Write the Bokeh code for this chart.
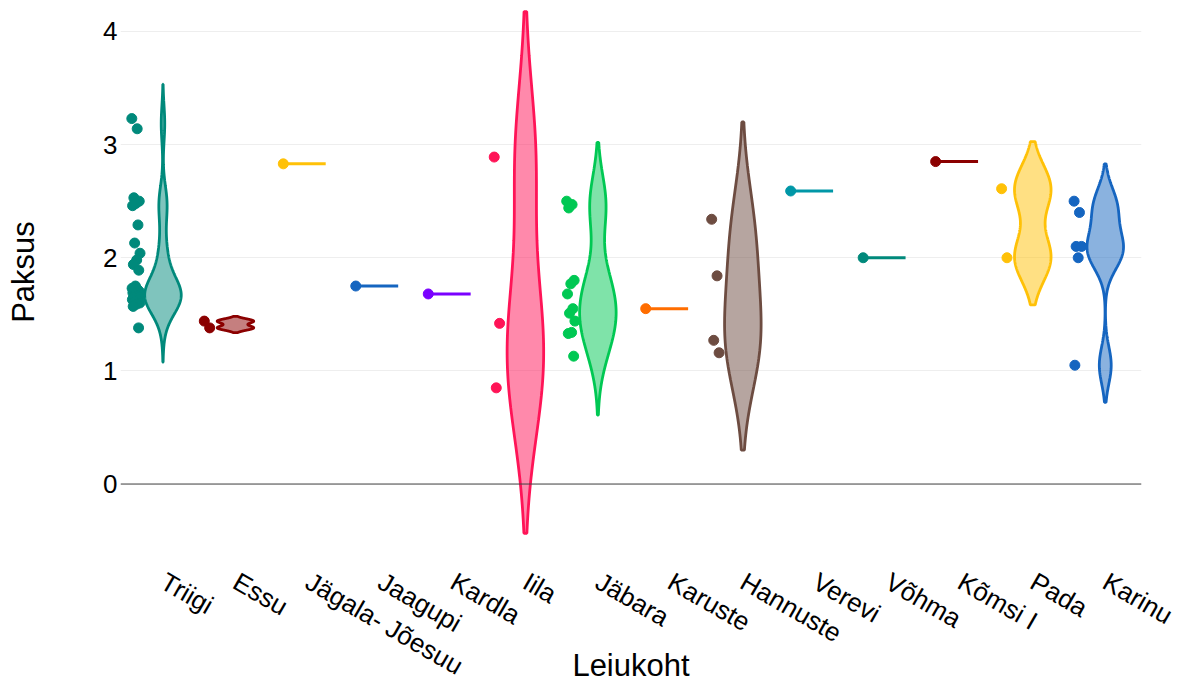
import numpy as np
from bokeh.plotting import figure
from bokeh.models import Range1d, FixedTicker, Span
from bokeh.embed import file_html
from bokeh.resources import INLINE

# ---------------- data ----------------
sites = ["Triigi", "Essu", "Jägala- Jõesuu", "Jaagupi", "Kardla", "Iila", "Jäbara",
         "Karuste", "Hannuste", "Verevi", "Võhma", "Kõmsi I", "Pada", "Karinu"]

triigi = [3.23, 3.14, 2.53, 2.50, 2.48, 2.46, 2.29, 2.13, 2.04, 1.98, 1.94, 1.89,
          1.75, 1.73, 1.72, 1.71, 1.70, 1.69, 1.69, 1.68, 1.67, 1.67,
          1.66, 1.65, 1.65, 1.64, 1.63, 1.62, 1.61, 1.60, 1.59, 1.57, 1.38]
essu = [1.44, 1.38]
jagala = [2.83]
jaagupi = [1.75]
kardla = [1.68]
iila = [2.89, 1.42, 0.85]
jabara = [2.50, 2.47, 2.44, 1.80, 1.77, 1.68, 1.55, 1.51, 1.44, 1.34, 1.33, 1.13]
karuste = [1.55]
hannuste = [2.34, 1.84, 1.27, 1.16]
verevi = [2.59]
vohma = [2.00]
komsi = [2.85]
pada = [2.61, 2.00]
karinu = [2.50, 2.40, 2.10, 2.10, 2.00, 1.05]

values = [triigi, essu, jagala, jaagupi, kardla, iila, jabara,
          karuste, hannuste, verevi, vohma, komsi, pada, karinu]

colors = ["#00897B", "#8B0000", "#FFC107", "#1565C0", "#7A00FF", "#FF1457", "#00C853",
          "#FF6D00", "#6D4C41", "#0097A7", "#00897B", "#8B0000", "#FFC107", "#1565C0"]

y_ticks = [0, 1, 2, 3, 4]

FONT = "Liberation Sans"

# ---------------- figure ----------------
p = figure(width=1180, height=690, output_backend="svg", toolbar_location=None,
           x_range=Range1d(-0.586, 13.5), y_range=Range1d(-0.455, 4.203),
           min_border_left=120, min_border_right=39, min_border_top=8,
           min_border_bottom=155)
p.outline_line_color = None
p.background_fill_color = "white"

p.xgrid.visible = False
p.ygrid.ticker = FixedTicker(ticks=y_ticks)
p.ygrid.grid_line_color = "#eeeeee"
p.ygrid.grid_line_width = 1

p.yaxis.ticker = FixedTicker(ticks=y_ticks)
p.xaxis.ticker = FixedTicker(ticks=list(range(len(sites))))
p.xaxis.major_label_overrides = {i: s for i, s in enumerate(sites)}
p.xaxis.major_label_orientation = -np.pi / 6

for ax in (p.xaxis, p.yaxis):
    ax.axis_line_color = None
    ax.major_tick_line_color = None
    ax.minor_tick_line_color = None
    ax.major_label_text_font = FONT
    ax.major_label_text_font_size = "26px"
    ax.major_label_text_color = "#000000"
    ax.axis_label_text_font = FONT
    ax.axis_label_text_font_size = "31px"
    ax.axis_label_text_font_style = "normal"
    ax.axis_label_text_color = "#000000"

p.yaxis.axis_label = "Paksus"
p.xaxis.axis_label = "Leiukoht"
p.yaxis.major_label_standoff = -3
p.yaxis.axis_label_standoff = 59
p.xaxis.major_label_standoff = 38
p.xaxis.axis_label_standoff = -49

p.add_layout(Span(location=0, dimension="width", line_color="#444444", line_width=1))


def bandwidth(v):
    v = np.asarray(v, float)
    n = len(v)
    std = v.std(ddof=1)
    q1, q3 = np.percentile(v, [25, 75])
    s = min(std, (q3 - q1) / 1.349)
    return 1.059 * s * n ** -0.2


HALF = 0.252      # max half-width of a violin (category units)
PTPOS = -0.37     # point column offset
JIT = 0.06        # jitter half-range

for i, (vals, col) in enumerate(zip(values, colors)):
    v = np.asarray(vals, float)
    if len(v) > 1:
        bw = bandwidth(v)
        ys = np.linspace(v.min() - 2 * bw, v.max() + 2 * bw, 300)
        dens = np.exp(-0.5 * ((ys[:, None] - v[None, :]) / bw) ** 2).sum(axis=1)
        w = dens / dens.max() * HALF
        xs = np.concatenate([i - w, (i + w)[::-1]])
        yy = np.concatenate([ys, ys[::-1]])
        p.patch(xs, yy, fill_color=col, fill_alpha=0.5, line_color=col, line_width=2.8)
        k = np.arange(len(v))
        jit = JIT * (((k * 0.6180339) % 1.0) * 2 - 1)
        p.scatter(i + PTPOS + jit, v, size=10, fill_color=col, line_color=col)
    else:
        p.segment(x0=[i - 0.29], y0=v, x1=[i + 0.245], y1=v, line_color=col, line_width=3)
        p.scatter([i - 0.34], v, size=10, fill_color=col, line_color=col)

open("out.html", "w").write(file_html(p, INLINE))
